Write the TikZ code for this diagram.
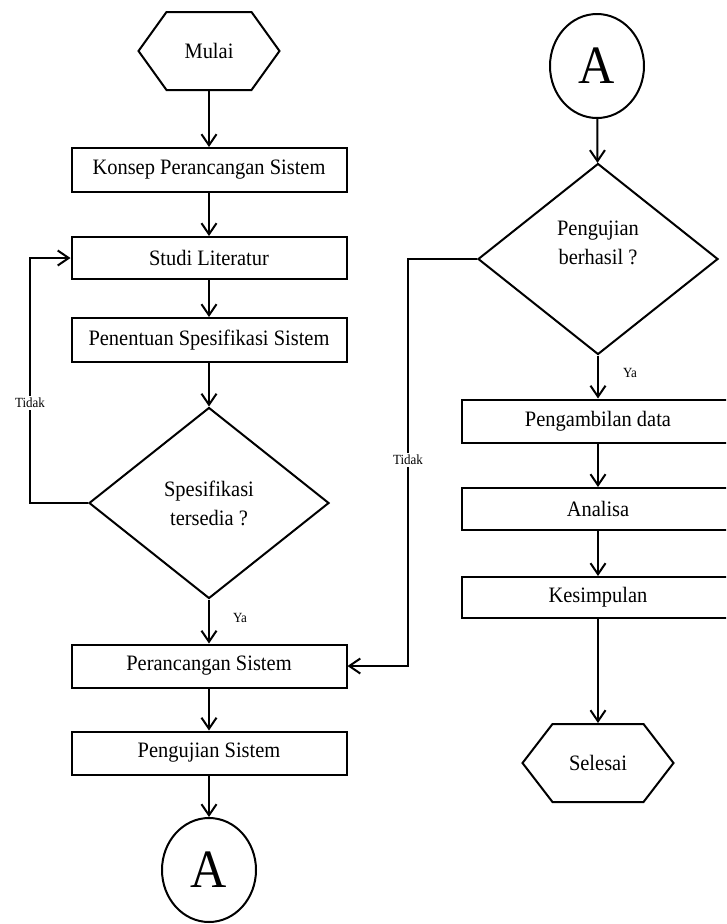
\documentclass[tikz,border=0pt]{standalone}
\usepackage{fontspec}
\setmainfont{Liberation Serif}[FakeStretch=0.93]
\usetikzlibrary{shapes.geometric,arrows.meta,calc}
\begin{document}
\begin{tikzpicture}[x=1pt,y=-1pt,
  line width=2pt,
  every node/.style={font=\fontsize{22}{29}\selectfont, align=center},
  procbox/.style={draw, rectangle, minimum width=275pt, inner sep=0pt},
  rprocbox/.style={draw, rectangle, minimum width=272pt, inner sep=0pt},
  decide/.style={draw, diamond, minimum width=240pt, minimum height=191pt, inner sep=0pt},
  conn/.style={draw, ellipse, minimum width=94pt, minimum height=104pt, inner sep=0pt, font=\fontsize{54}{60}\selectfont},
  termtext/.style={rectangle, inner sep=0pt},
  flow/.style={-{Straight Barb[length=11pt,width=15pt,line width=2pt]}},
  lbl/.style={font=\fontsize{14}{16}\selectfont, fill=white, inner sep=2pt}
]
\useasboundingbox (0,0) rectangle (726,924);
\clip (0,0) rectangle (726,924);

% ---------- left column ----------
\draw (138.5,51) -- (166.5,12) -- (251.5,12) -- (279.5,51) -- (251.5,90) -- (166.5,90) -- cycle;
\node[termtext, minimum width=141pt, minimum height=78pt] (mulai) at (209,51) {Mulai};

\node[procbox, minimum height=44pt] (konsep) at (209,170) {Konsep Perancangan Sistem};
\node[procbox, minimum height=42pt] (studi) at (209,258) {Studi Literatur};
\node[procbox, minimum height=44pt] (tentu) at (209,340) {Penentuan Spesifikasi Sistem};
\node[decide] (spes) at (209,503) {Spesifikasi\\tersedia ?};
\node[procbox, minimum height=43pt] (rancang) at (209,666) {Perancangan Sistem};
\node[procbox, minimum height=43pt] (ujisis) at (209,753) {Pengujian Sistem};
\node[conn] (a1) at (209,870) {A};

\draw[flow] (mulai) -- (konsep);
\draw[flow] (konsep) -- (studi);
\draw[flow] (studi) -- (tentu);
\draw[flow] (tentu) -- (spes);
\draw[flow] (spes) -- (rancang);
\draw[flow] (rancang) -- (ujisis);
\draw[flow] (ujisis) -- (a1);

\coordinate (lc1) at (30,503);
\coordinate (lc2) at (30,258);
\draw[flow] (spes.west) -- (lc1) -- (lc2) -- (studi.west);
\node[lbl] (tidak1) at (30,403) {Tidak};
\node[lbl] (ya1) at (240,618) {Ya};

% ---------- right column ----------
\node[conn] (a2) at (597,66) {A};
\node[decide] (uji) at (598,259) {Pengujian\\berhasil ?\\[4pt]\mbox{}};
\node[rprocbox, minimum height=43pt] (ambil) at (598,421) {Pengambilan data};
\node[rprocbox, minimum height=42pt] (analisa) at (598,509) {Analisa};
\node[rprocbox, minimum height=41pt] (simpul) at (598,597.5) {Kesimpulan};
\draw (522.5,763) -- (552.5,724) -- (643.5,724) -- (673.5,763) -- (643.5,802) -- (552.5,802) -- cycle;
\node[termtext, minimum width=151pt, minimum height=78pt] (selesai) at (598,763) {Selesai};

\draw[flow] (a2) -- (uji);
\draw[flow] (uji) -- (ambil);
\draw[flow] (ambil) -- (analisa);
\draw[flow] (analisa) -- (simpul);
\draw[flow] (simpul) -- (selesai);

\coordinate (rc1) at (408,259);
\coordinate (rc2) at (408,666);
\draw[flow] (uji.west) -- (rc1) -- (rc2) -- (rancang.east);
\node[lbl] (tidak2) at (408,460) {Tidak};
\node[lbl] (ya2) at (630,373) {Ya};
\end{tikzpicture}
\end{document}
